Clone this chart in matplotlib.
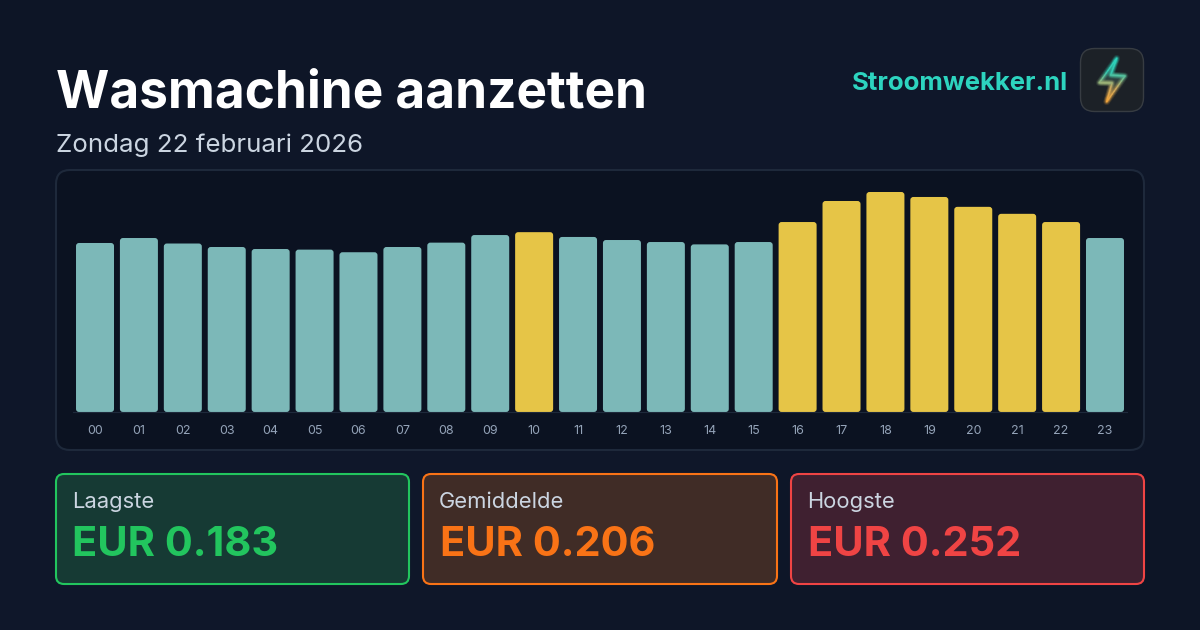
import numpy as np
import matplotlib
matplotlib.use('Agg')
import matplotlib.pyplot as plt
from matplotlib.patches import FancyBboxPatch
from matplotlib.colors import LinearSegmentedColormap
from matplotlib.collections import LineCollection
from matplotlib.path import Path
from matplotlib.patches import PathPatch

plt.rcParams['font.family'] = ['Inter', 'DejaVu Sans']

# Data
hours = ['00', '01', '02', '03', '04', '05', '06', '07', '08', '09', '10', '11',
         '12', '13', '14', '15', '16', '17', '18', '19', '20', '21', '22', '23']
prices = [0.1936, 0.1993, 0.1930, 0.1890, 0.1867, 0.1860, 0.1830, 0.1890,
          0.1940, 0.2027, 0.2060, 0.2005, 0.1970, 0.1947, 0.1920, 0.1947,
          0.2176, 0.2417, 0.2520, 0.2463, 0.2350, 0.2270, 0.2176, 0.1993]
best_hours = [10, 16, 17, 18, 19, 20, 21, 22]
card_labels = ['Laagste', 'Gemiddelde', 'Hoogste']
card_values = ['EUR 0.183', 'EUR 0.206', 'EUR 0.252']
card_colors = ['#22c55e', '#f97316', '#ef4444']
card_fills = ['#163a34', '#402c26', '#3f2030']
title = 'Wasmachine aanzetten'
subtitle = 'Zondag 22 februari 2026'
brand = 'Stroomwekker.nl'

W, H = 1200, 630
fig = plt.figure(figsize=(W / 100, H / 100), dpi=100)

# Page in pixel coordinates, y pointing down
bg = fig.add_axes([0, 0, 1, 1])
bg.set_xlim(0, W)
bg.set_ylim(H, 0)
bg.axis('off')
grad = LinearSegmentedColormap.from_list('bg', ['#0d1526', '#10182b', '#0d1526'])
xx, yy = np.meshgrid(np.linspace(0, 1, 120), np.linspace(0, 1, 63))
bg.imshow((xx + yy) / 2, cmap=grad, extent=[0, W, H, 0], aspect='auto', zorder=0)


def rbox(ax, x0, y0, x1, y1, r, fc, ec='none', lw=0, z=1):
    p = FancyBboxPatch((x0, y0), x1 - x0, y1 - y0, boxstyle=f'round,pad=0,rounding_size={r}',
                       fc=fc, ec=ec, lw=lw, zorder=z)
    ax.add_patch(p)
    return p


# Header
bg.text(55.5, 94, title, fontsize=37.0, fontweight='bold', color='white', va='center', ha='left', zorder=3)
bg.text(56.5, 145, subtitle, fontsize=18.65, color='#cbd5e1', va='center', ha='left', zorder=3)
bg.text(1068, 83, brand, fontsize=18.5, fontweight='bold', color='#2dd4bf', va='center', ha='right', zorder=3)

# Logo
rbox(bg, 1080.5, 48.5, 1143.5, 111.5, 14, '#1c2127', '#373c42', 1, 2)
bolt = [(1116.7, 58.3), (1099.3, 82.7), (1112, 83), (1106.7, 101.7), (1125, 76), (1110.7, 75), (1116.7, 58.3)]
bolt_fill = PathPatch(Path(bolt), fc='none', ec='none', zorder=3)
bg.add_patch(bolt_fill)
bolt_cmap = LinearSegmentedColormap.from_list('bolt', ['#2a9d94', '#4c6f66', '#b0813a'])
img = bg.imshow(np.linspace(0, 1, 50).reshape(-1, 1), cmap=bolt_cmap, extent=[1099, 1125, 102, 58],
                aspect='auto', zorder=3, alpha=0.4)
img.set_clip_path(bolt_fill)
bg.set_xlim(0, W)
bg.set_ylim(H, 0)

# Outline of the bolt runs from teal at the top to amber at the bottom
edge_cmap = LinearSegmentedColormap.from_list('edge', ['#2dd4bf', '#35c8b0', '#c9a860', '#f5a53a'])
segs, cols = [], []
bx = np.array(bolt)
for i in range(len(bx) - 1):
    for t0, t1 in zip(np.linspace(0, 0.9, 10), np.linspace(0.1, 1, 10)):
        a = bx[i] + (bx[i + 1] - bx[i]) * t0
        b = bx[i] + (bx[i + 1] - bx[i]) * t1
        segs.append([a, b])
        cols.append(edge_cmap((a[1] + b[1]) / 2 / 44 - 58 / 44))
for lw, alpha in [(5, 0.07), (3.5, 0.12), (2.2, 0.22), (0.9, 1)]:
    lc = LineCollection(segs, colors=cols, linewidths=lw, alpha=alpha, capstyle='round', zorder=4)
    bg.add_collection(lc)

# Chart panel
rbox(bg, 56, 170, 1144, 450, 14, '#0b1221', '#1e293b', 1.5, 1)

# Cards
card_x = [(56, 409), (423, 777), (791, 1144)]
for (x0, x1), lab, val, col, fill in zip(card_x, card_labels, card_values, card_colors, card_fills):
    rbox(bg, x0, 474, x1, 584, 8, fill, col, 1.5, 2)
    bg.text(x0 + 16, 502, lab, fontsize=15.8, color='#cbd5e1', va='center', ha='left', zorder=3)
    bg.text(x0 + 16.5, 545, val, fontsize=29.9, fontweight='bold', color=col, va='center', ha='left', zorder=3)

# Bar chart, zero baseline at y=412 px
ax = fig.add_axes([73.05 / W, 1 - 412 / H, 1053.9 / W, 220 / H])
ax.set_xlim(-0.5, 23.5)
ax.set_ylim(0, 0.252)
ax.patch.set_alpha(0)
for s in ax.spines.values():
    s.set_visible(False)
ax.spines['bottom'].set_visible(True)
ax.spines['bottom'].set_color('#1e293b')
ax.set_yticks([])
ax.set_xticks(range(24))
ax.set_xticklabels(hours, fontsize=9, color='#94a3b8')
ax.tick_params(axis='x', length=0, pad=9.5)

bar_w = 38 / (1053.9 / 24)
x_unit = 1053.9 / 24
y_unit = 220 / 0.252
r = 3 / x_unit
for i, p in enumerate(prices):
    c = '#e6c547' if i in best_hours else '#7cb8b8'
    patch = FancyBboxPatch((i - bar_w / 2, 0), bar_w, p, boxstyle=f'round,pad=0,rounding_size={r}',
                           mutation_aspect=x_unit / y_unit, fc=c, ec='none', clip_on=False, zorder=2)
    ax.add_patch(patch)

fig.savefig('out.png', dpi=100, facecolor='#0d1526')
